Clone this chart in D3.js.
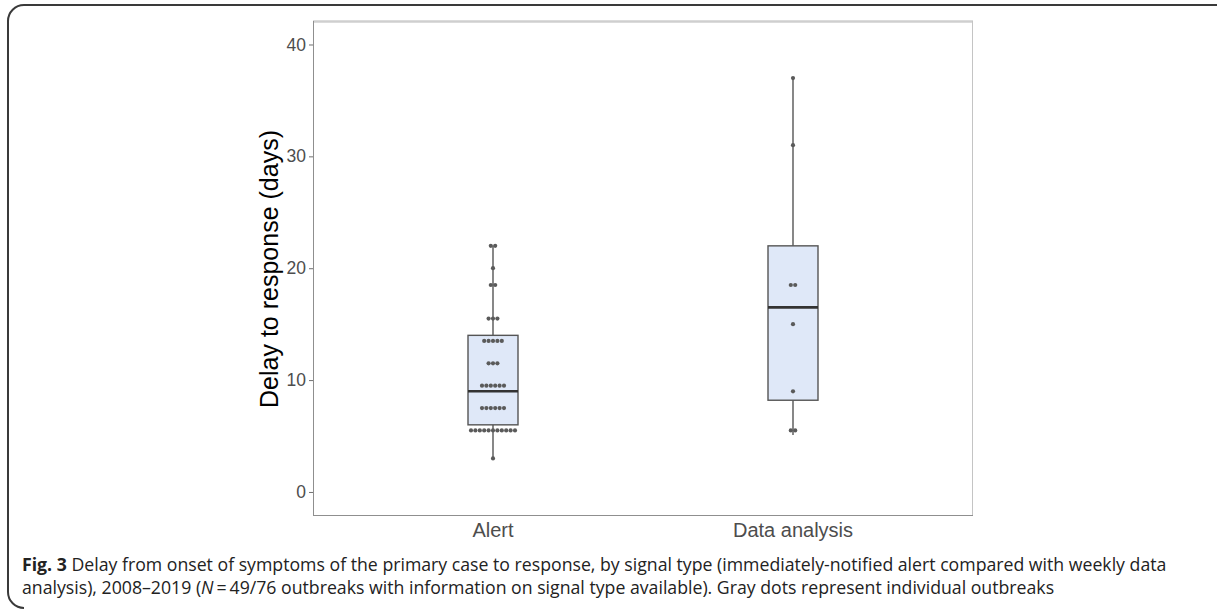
<!DOCTYPE html>
<html>
<head>
<meta charset="utf-8">
<script src="https://cdn.jsdelivr.net/npm/d3@7"></script>
<style>
  body { margin: 0; background: #fff; }
  svg { display: block; }
</style>
</head>
<body>
<div id="chart"></div>
<script>
// Data
const groups = ["Alert", "Data analysis"];
const lowerWhisker = [3, 5.1];
const q1 = [6, 8.2];
const medians = [9, 16.5];
const q3 = [14, 22];
const upperWhisker = [22, 37];

// dot plot bins (value, number of dots in the row)
const alertDotValues = [22, 20, 18.5, 15.5, 13.5, 11.5, 9.5, 7.5, 5.5, 3];
const alertDotCounts = [2, 1, 2, 3, 5, 3, 6, 6, 11, 1];
const dataDotValues = [37, 31, 18.5, 15, 9, 5.5];
const dataDotCounts = [1, 1, 2, 1, 1, 2];

const yTicks = [0, 10, 20, 30, 40];

const W = 1217, H = 609;
const panel = { left: 313, right: 973, top: 21, bottom: 515 };

const svg = d3.select("#chart")
  .append("svg")
  .attr("width", W)
  .attr("height", H);

// outer frame of the figure
svg.append("path")
  .attr("d", "M1217,5 H24 A16,16 0 0 0 8,21 V592 A16,16 0 0 0 24,608")
  .attr("fill", "none")
  .attr("stroke", "#3a3a3a")
  .attr("stroke-width", 2);

// Scales
const y = d3.scaleLinear()
  .domain([-2.06, 42.1])
  .range([panel.bottom, panel.top]);

// discrete positions 1, 2 with ggplot-style 0.6 expansion
const xPos = d3.scaleLinear()
  .domain([0.4, 2.6])
  .range([panel.left, panel.right]);
const xc = d => xPos(groups.indexOf(d) + 1);

// panel border
svg.append("line")
  .attr("x1", panel.left).attr("x2", panel.right)
  .attr("y1", panel.top + 0.5).attr("y2", panel.top + 0.5)
  .attr("stroke", "#cfcfcf").attr("stroke-width", 2.5);
svg.append("line")
  .attr("x1", panel.right - 0.5).attr("x2", panel.right - 0.5)
  .attr("y1", panel.top).attr("y2", panel.bottom)
  .attr("stroke", "#c4c4c4").attr("stroke-width", 1);
svg.append("line")
  .attr("x1", panel.left).attr("x2", panel.right)
  .attr("y1", panel.bottom + 0.5).attr("y2", panel.bottom + 0.5)
  .attr("stroke", "#8f8f8f").attr("stroke-width", 1);

// Y axis
const yAxis = svg.append("g")
  .attr("transform", `translate(${panel.left},0)`)
  .call(d3.axisLeft(y).tickValues(yTicks).tickSize(4).tickPadding(3));
yAxis.select(".domain")
  .attr("d", `M0.5,${panel.top}V${panel.bottom}`)
  .attr("stroke", "#8f8f8f");
yAxis.selectAll(".tick line").attr("stroke", "#6f6f6f");
yAxis.selectAll(".tick text")
  .attr("fill", "#4d4d4d")
  .style("font-family", "'Liberation Sans', Arial, sans-serif")
  .style("font-size", "17.5px");

svg.append("text")
  .attr("transform", "rotate(-90)")
  .attr("x", -269)
  .attr("y", 278)
  .attr("fill", "#000")
  .style("text-anchor", "middle")
  .style("font-family", "'Liberation Sans', Arial, sans-serif")
  .style("font-size", "25px")
  .text("Delay to response (days)");

// X labels
svg.append("g")
  .selectAll("text")
  .data(groups)
  .join("text")
  .attr("x", d => xc(d))
  .attr("y", 537)
  .attr("fill", "#4d4d4d")
  .style("text-anchor", "middle")
  .style("font-family", "'Liberation Sans', Arial, sans-serif")
  .style("font-size", "20px")
  .text(d => d);

// Boxplots
const boxW = 50;
const boxes = svg.append("g")
  .selectAll("g")
  .data(groups)
  .join("g")
  .attr("transform", d => `translate(${xc(d)},0)`);

// whiskers
boxes.append("line")
  .attr("x1", 0).attr("x2", 0)
  .attr("y1", (d, i) => y(upperWhisker[i]))
  .attr("y2", (d, i) => y(q3[i]))
  .attr("stroke", "#555").attr("stroke-width", 1.4);
boxes.append("line")
  .attr("x1", 0).attr("x2", 0)
  .attr("y1", (d, i) => y(q1[i]))
  .attr("y2", (d, i) => y(lowerWhisker[i]))
  .attr("stroke", "#555").attr("stroke-width", 1.4);

boxes.append("rect")
  .attr("x", -boxW / 2)
  .attr("width", boxW)
  .attr("y", (d, i) => y(q3[i]))
  .attr("height", (d, i) => y(q1[i]) - y(q3[i]))
  .attr("fill", "#dfe8f8")
  .attr("stroke", "#555")
  .attr("stroke-width", 1.4);

boxes.append("line")
  .attr("x1", -boxW / 2).attr("x2", boxW / 2)
  .attr("y1", (d, i) => y(medians[i]))
  .attr("y2", (d, i) => y(medians[i]))
  .attr("stroke", "#333").attr("stroke-width", 2.6);

// Dots, stacked centred in each bin
const dotSpacing = 4.4;
function expandDots(values, counts, group) {
  const out = [];
  values.forEach((v, i) => {
    const n = counts[i];
    for (let k = 0; k < n; k++) {
      out.push({ group: group, value: v, offset: (k - (n - 1) / 2) * dotSpacing });
    }
  });
  return out;
}
const dots = expandDots(alertDotValues, alertDotCounts, groups[0])
  .concat(expandDots(dataDotValues, dataDotCounts, groups[1]));

svg.append("g")
  .selectAll("circle")
  .data(dots)
  .join("circle")
  .attr("cx", d => xc(d.group) + d.offset)
  .attr("cy", d => y(d.value))
  .attr("r", 2.1)
  .attr("fill", "#5a5a5a");

// Caption
const caption = svg.append("g")
  .style("font-family", "'Open Sans', sans-serif")
  .style("font-size", "17.7px")
  .attr("fill", "#222");

const line1 = caption.append("text").attr("x", 22).attr("y", 571);
line1.append("tspan").style("font-weight", "bold").text("Fig. 3");
line1.append("tspan").text(" Delay from onset of symptoms of the primary case to response, by signal type (immediately-notified alert compared with weekly data");

const line2 = caption.append("text").attr("x", 22).attr("y", 594);
line2.append("tspan").text("analysis), 2008\u20132019 (");
line2.append("tspan").style("font-style", "italic").text("N");
line2.append("tspan").text("\u2009=\u200949/76 outbreaks with information on signal type available). Gray dots represent individual outbreaks");
</script>
</body>
</html>
